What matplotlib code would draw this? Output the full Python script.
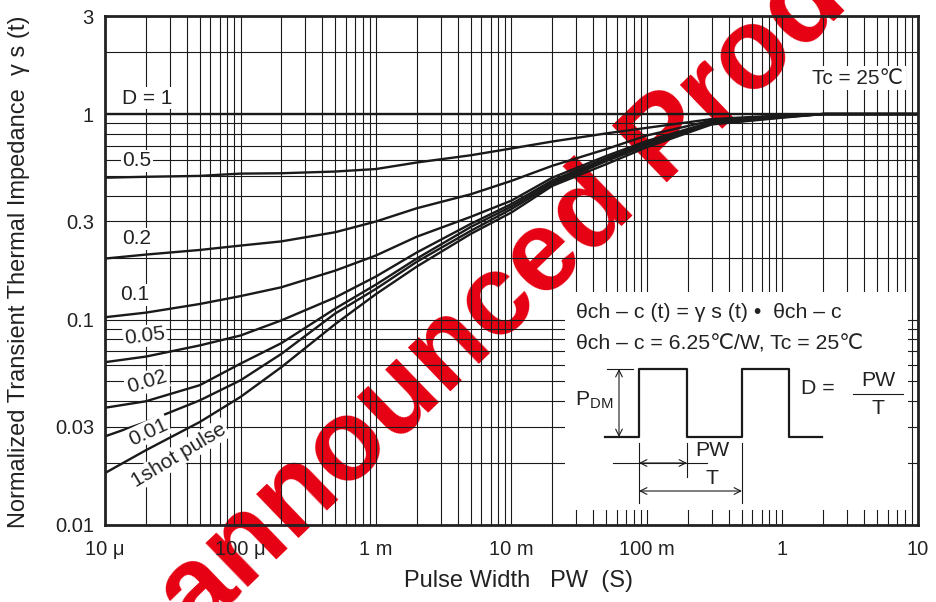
import numpy as np
import matplotlib.pyplot as plt
from matplotlib.patches import Rectangle

plt.rcParams['font.family'] = ['Liberation Sans', 'DejaVu Sans']

# pulse width (s) and normalized transient thermal impedance per duty cycle
pulse_width = [1e-5, 2e-5, 5e-5, 1e-4, 2e-4, 5e-4, 1e-3, 2e-3, 5e-3, 1e-2, 2e-2, 5e-2,
               1e-1, 3e-1, 1, 2, 10]
duty_labels = ['D = 1', '0.5', '0.2', '0.1', '0.05', '0.02', '0.01', '1shot pulse']
gamma_d1 = [1.0] * 17
gamma_d05 = [0.49, 0.495, 0.50, 0.513, 0.515, 0.525, 0.54, 0.581, 0.63, 0.68, 0.735, 0.805,
             0.857, 0.945, 0.985, 1.0, 1.0]
gamma_d02 = [0.198, 0.207, 0.218, 0.229, 0.240, 0.266, 0.300, 0.348, 0.407, 0.473, 0.56, 0.675,
             0.787, 0.93, 0.98, 1.0, 1.0]
gamma_d01 = [0.1026, 0.108, 0.119, 0.130, 0.1435, 0.173, 0.205, 0.253, 0.316, 0.379, 0.49, 0.625,
             0.74, 0.915, 0.975, 1.0, 1.0]
gamma_d005 = [0.062, 0.066, 0.0748, 0.0836, 0.099, 0.128, 0.162, 0.212, 0.292, 0.365, 0.475, 0.61,
              0.725, 0.905, 0.972, 1.0, 1.0]
gamma_d002 = [0.0372, 0.040, 0.0479, 0.061, 0.0767, 0.113, 0.148, 0.198, 0.282, 0.355, 0.465, 0.60,
              0.715, 0.90, 0.968, 1.0, 1.0]
gamma_d001 = [0.0270, 0.0317, 0.0404, 0.0506, 0.068, 0.107, 0.141, 0.191, 0.27, 0.345, 0.455, 0.59,
              0.705, 0.895, 0.965, 1.0, 1.0]
gamma_single = [0.0179, 0.0231, 0.0317, 0.042, 0.0586, 0.095, 0.133, 0.181, 0.261, 0.332, 0.447, 0.57,
                0.69, 0.89, 0.96, 1.0, 1.0]

x_ticks = [1e-5, 1e-4, 1e-3, 1e-2, 1e-1, 1, 10]
x_ticklabels = ['10 \u03bc', '100 \u03bc', '1 m', '10 m', '100 m', '1', '10']
y_ticks = [0.01, 0.03, 0.1, 0.3, 1, 3]
y_ticklabels = ['0.01', '0.03', '0.1', '0.3', '1', '3']

W, H = 937, 602
L, R, T, B = 105, 918, 16, 525

fig = plt.figure(figsize=(W / 100, H / 100), dpi=100)
ax = fig.add_axes([L / W, 1 - B / H, (R - L) / W, (B - T) / H])
ax.patch.set_visible(False)


def px(X, Y):
    # pixel position in the picture -> axes fraction
    return ((X - L) / (R - L), (B - Y) / (B - T))


# watermark under everything
fig.text(510 / W, 1 - 293 / H, 'Unannounced Product', color='#e60012', fontsize=83,
         fontweight='bold', rotation=44, ha='center', va='center', rotation_mode='anchor',
         zorder=-5)

ax.set_xscale('log')
ax.set_yscale('log')
ax.set_xlim(1e-5, 10)
ax.set_ylim(0.01, 3)

ax.grid(True, which='both', color='#1a1a1a', lw=0.8)
ax.set_axisbelow(True)

series = [gamma_d1, gamma_d05, gamma_d02, gamma_d01, gamma_d005, gamma_d002, gamma_d001, gamma_single]
for s in series:
    ax.plot(pulse_width, s, color='#1a1a1a', lw=1.7, zorder=3)

ax.set_xticks(x_ticks)
ax.set_xticklabels(x_ticklabels)
ax.set_yticks(y_ticks)
ax.set_yticklabels(y_ticklabels)
ax.tick_params(which='both', length=0, labelsize=14.5, colors='#222222')
ax.tick_params(axis='x', pad=11)
ax.tick_params(axis='y', pad=8)
for sp in ax.spines.values():
    sp.set_linewidth(2)
    sp.set_color('#222222')
    sp.set_zorder(6)

ax.set_xlabel('Pulse Width   PW  (S)', fontsize=17, color='#222222')
ax.xaxis.set_label_coords(0.508, -0.088)
ax.set_ylabel('Normalized Transient Thermal Impedance  \u03b3 s (t)', fontsize=17, color='#222222')
ax.yaxis.set_label_coords(-0.092, 0.497)

# curve labels
box = dict(fc='white', ec='none', pad=1.0)
label_pos = [(147, 98, 0), (137, 161, 0), (137, 239, 0), (135, 295, 0),
             (145, 336, 7), (147, 382, 17), (148, 432, 25), (179, 455, 31)]
for txt, (X, Y, rot) in zip(duty_labels, label_pos):
    ax.text(*px(X, Y), txt, transform=ax.transAxes, fontsize=15, color='#222222',
            ha='center', va='center', rotation=rot, bbox=box, zorder=4)

ax.text(*px(858, 78), 'Tc = 25\u2103', transform=ax.transAxes, fontsize=15,
        color='#222222', ha='center', va='center', bbox=dict(fc='white', ec='none', pad=2),
        zorder=4)

# inset with the definitions
x0, y0 = px(565, 510)
x1, y1 = px(908, 292)
ax.add_patch(Rectangle((x0, y0), x1 - x0, y1 - y0, transform=ax.transAxes,
                       fc='white', ec='none', zorder=2.5))
kw = dict(transform=ax.transAxes, fontsize=15.3, color='#222222', va='center', zorder=5)
ax.text(*px(576, 313), '\u03b8ch \u2013 c (t) = \u03b3 s (t) \u2022  \u03b8ch \u2013 c', ha='left', **kw)
ax.text(*px(576, 344), '\u03b8ch \u2013 c = 6.25\u2103/W, Tc = 25\u2103', ha='left', **kw)
ax.text(*px(594, 400), 'P$_{\\mathregular{DM}}$', ha='center', **kw)
ax.text(*px(818, 388), 'D =', ha='center', **kw)
ax.text(*px(878, 381), 'PW', ha='center', **kw)
ax.text(*px(878, 409), 'T', ha='center', **kw)
ax.text(*px(712, 451), 'PW', ha='center', **kw)
ax.text(*px(712, 479), 'T', ha='center', **kw)

lk = dict(transform=ax.transAxes, color='#1a1a1a', zorder=5, clip_on=False)
wave_x = [605, 639, 639, 687, 687, 742, 742, 789, 789, 822]
wave_y = [437, 437, 369, 369, 437, 437, 369, 369, 437, 437]
wx, wy = zip(*[px(a, b) for a, b in zip(wave_x, wave_y)])
ax.plot(wx, wy, lw=1.6, **lk)
for seg in [((853, 394), (903, 394)), ((607, 369), (633, 369)),
            ((639, 443), (639, 503)), ((687, 443), (687, 477)), ((742, 443), (742, 503)),
            ((613, 463), (707, 463))]:
    (a, b), (c, d) = seg
    sx, sy = zip(px(a, b), px(c, d))
    ax.plot(sx, sy, lw=0.8, **lk)

ak = dict(xycoords='axes fraction', textcoords='axes fraction', zorder=5,
          arrowprops=dict(arrowstyle='<->', lw=0.8, color='#1a1a1a',
                          shrinkA=0, shrinkB=0, mutation_scale=12))
ax.annotate('', xy=px(619, 369), xytext=px(619, 437), **ak)
ax.annotate('', xy=px(639, 463), xytext=px(687, 463), **ak)
ax.annotate('', xy=px(639, 491), xytext=px(742, 491), **ak)

fig.savefig('out.png', dpi=100)
